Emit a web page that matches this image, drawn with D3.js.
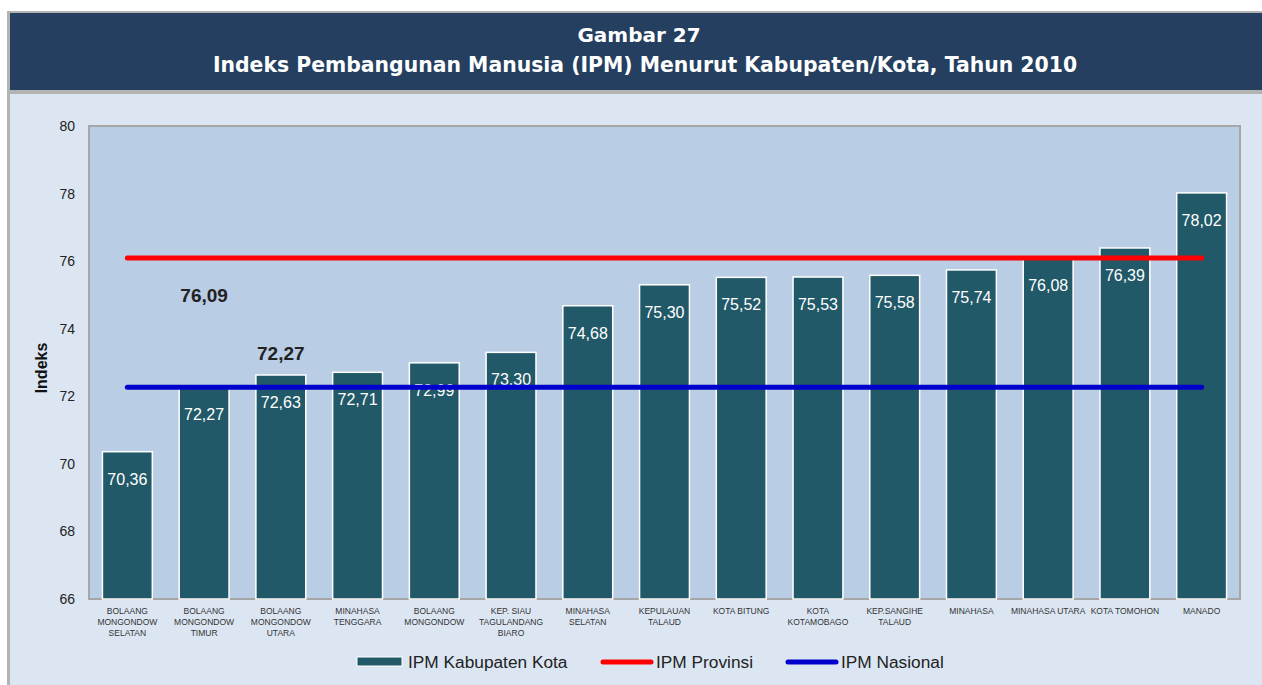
<!DOCTYPE html>
<html>
<head>
<meta charset="utf-8">
<script src="https://cdn.jsdelivr.net/npm/d3@7"></script>
<style>
  body { margin: 0; background: #fff; }
  svg { display: block; }
</style>
</head>
<body>
<script>
// data
const regions = [
    ['BOLAANG', 'MONGONDOW', 'SELATAN'],
    ['BOLAANG', 'MONGONDOW', 'TIMUR'],
    ['BOLAANG', 'MONGONDOW', 'UTARA'],
    ['MINAHASA', 'TENGGARA'],
    ['BOLAANG', 'MONGONDOW'],
    ['KEP. SIAU', 'TAGULANDANG', 'BIARO'],
    ['MINAHASA', 'SELATAN'],
    ['KEPULAUAN', 'TALAUD'],
    ['KOTA BITUNG'],
    ['KOTA', 'KOTAMOBAGO'],
    ['KEP.SANGIHE', 'TALAUD'],
    ['MINAHASA'],
    ['MINAHASA UTARA'],
    ['KOTA TOMOHON'],
    ['MANADO']
]
const ipmValues = [70.36, 72.27, 72.63, 72.71, 72.99, 73.30, 74.68, 75.30, 75.52, 75.53, 75.58, 75.74, 76.08, 76.39, 78.02]
const ipmProvinsi = 76.09
const ipmNasional = 72.27
const yTicks = [66, 68, 70, 72, 74, 76, 78, 80]
const legendNames = ['IPM Kabupaten Kota', 'IPM Provinsi', 'IPM Nasional']

const m = { width: 1262, height: 685 }
const plot = { left: 89, right: 1240, top: 126, bottom: 599 }
const fmt = v => v.toFixed(2).replace('.', ',')

const svg = d3.select('body').append('svg')
    .attr('width', m.width)
    .attr('height', m.height)

// frame and banner
svg.append('rect').attr('x', 7).attr('y', 11).attr('width', m.width - 7).attr('height', m.height - 11).attr('fill', '#b3b3b3')
svg.append('rect').attr('x', 10).attr('y', 94).attr('width', m.width - 10).attr('height', m.height - 94).attr('fill', '#dce6f2')
svg.append('rect').attr('x', 10).attr('y', 13).attr('width', m.width - 10).attr('height', 77).attr('fill', '#243f60')

svg.append('text')
    .attr('x', 639).attr('y', 42)
    .attr('text-anchor', 'middle')
    .attr('font-family', 'DejaVu Sans')
    .attr('font-weight', 'bold')
    .attr('font-size', 20)
    .attr('fill', '#fff')
    .text('Gambar 27')
svg.append('text')
    .attr('x', 645).attr('y', 72)
    .attr('text-anchor', 'middle')
    .attr('font-family', 'DejaVu Sans')
    .attr('font-weight', 'bold')
    .attr('font-size', 20.4)
    .attr('fill', '#fff')
    .text('Indeks Pembangunan Manusia (IPM) Menurut Kabupaten/Kota, Tahun 2010')

// scales
const x = d3.scaleBand()
    .domain(d3.range(ipmValues.length))
    .range([plot.left, plot.right])
    .paddingInner(0.35)
    .paddingOuter(0.175)

const y = d3.scaleLinear()
    .domain([66, 80])
    .range([plot.bottom, plot.top])

// plot area
svg.append('rect')
    .attr('x', plot.left).attr('y', plot.top)
    .attr('width', plot.right - plot.left).attr('height', plot.bottom - plot.top)
    .attr('fill', '#b9cde5')
    .attr('stroke', '#a6a6a6')
    .attr('stroke-width', 2)

// y axis
const yAxis = svg.append('g')
    .attr('transform', `translate(${plot.left},0)`)
    .call(d3.axisLeft(y).tickValues(yTicks).tickSize(0).tickPadding(14))
yAxis.select('.domain').remove()
yAxis.selectAll('text')
    .attr('font-family', 'Liberation Sans, Arial, sans-serif')
    .attr('font-size', 14)
    .attr('fill', '#222')

svg.append('text')
    .attr('transform', 'translate(47,368) rotate(-90)')
    .attr('text-anchor', 'middle')
    .attr('font-family', 'Liberation Sans, Arial, sans-serif')
    .attr('font-weight', 'bold')
    .attr('font-size', 16)
    .attr('fill', '#111')
    .text('Indeks')

// bars
svg.selectAll('.bar')
    .data(ipmValues)
    .enter()
    .append('rect')
        .attr('class', 'bar')
        .attr('x', (d, i) => x(i))
        .attr('y', d => y(d))
        .attr('width', x.bandwidth())
        .attr('height', d => y(66) - y(d))
        .attr('fill', '#215968')
        .attr('stroke', '#fff')
        .attr('stroke-width', 1.5)

svg.selectAll('.val')
    .data(ipmValues)
    .enter()
    .append('text')
        .attr('class', 'val')
        .attr('x', (d, i) => x(i) + x.bandwidth() / 2)
        .attr('y', d => y(d) + 33)
        .attr('text-anchor', 'middle')
        .attr('font-family', 'Liberation Sans, Arial, sans-serif')
        .attr('font-size', 16)
        .attr('fill', '#fff')
        .text(d => fmt(d))

// x labels
const xl = svg.selectAll('.xl')
    .data(regions)
    .enter()
    .append('text')
        .attr('class', 'xl')
        .attr('x', (d, i) => x(i) + x.bandwidth() / 2)
        .attr('y', 614)
        .attr('text-anchor', 'middle')
        .attr('font-family', 'Liberation Sans, Arial, sans-serif')
        .attr('font-size', 8.5)
        .attr('fill', '#333')
xl.selectAll('tspan')
    .data((d, i) => d.map(t => ({ t, i })))
    .enter()
    .append('tspan')
        .attr('x', d => x(d.i) + x.bandwidth() / 2)
        .attr('dy', (d, j) => j === 0 ? 0 : 11)
        .text(d => d.t)

// reference lines
const first = x(0) + x.bandwidth() / 2
const last = x(ipmValues.length - 1) + x.bandwidth() / 2
svg.append('line')
    .attr('x1', first).attr('x2', last)
    .attr('y1', y(ipmProvinsi)).attr('y2', y(ipmProvinsi))
    .attr('stroke', '#ff0000').attr('stroke-width', 5).attr('stroke-linecap', 'round')
svg.append('line')
    .attr('x1', first).attr('x2', last)
    .attr('y1', y(ipmNasional)).attr('y2', y(ipmNasional))
    .attr('stroke', '#0000cc').attr('stroke-width', 5).attr('stroke-linecap', 'round')

// annotations
svg.append('text')
    .attr('x', x(1) + x.bandwidth() / 2).attr('y', 302)
    .attr('text-anchor', 'middle')
    .attr('font-family', 'Liberation Sans, Arial, sans-serif')
    .attr('font-weight', 'bold').attr('font-size', 19)
    .attr('fill', '#222')
    .text(fmt(ipmProvinsi))
svg.append('text')
    .attr('x', x(2) + x.bandwidth() / 2).attr('y', 360)
    .attr('text-anchor', 'middle')
    .attr('font-family', 'Liberation Sans, Arial, sans-serif')
    .attr('font-weight', 'bold').attr('font-size', 19)
    .attr('fill', '#222')
    .text(fmt(ipmNasional))

// legend
const lg = svg.append('g').attr('font-family', 'Liberation Sans, Arial, sans-serif').attr('font-size', 17.3).attr('fill', '#222')
lg.append('rect').attr('x', 357).attr('y', 657).attr('width', 45).attr('height', 9)
    .attr('fill', '#215968').attr('stroke', '#fff').attr('stroke-width', 1)
lg.append('text').attr('x', 408).attr('y', 668).text(legendNames[0])
lg.append('line').attr('x1', 603).attr('x2', 651).attr('y1', 662).attr('y2', 662)
    .attr('stroke', '#ff0000').attr('stroke-width', 5).attr('stroke-linecap', 'round')
lg.append('text').attr('x', 656).attr('y', 668).text(legendNames[1])
lg.append('line').attr('x1', 788).attr('x2', 836).attr('y1', 662).attr('y2', 662)
    .attr('stroke', '#0000cc').attr('stroke-width', 5).attr('stroke-linecap', 'round')
lg.append('text').attr('x', 841).attr('y', 668).text(legendNames[2])
</script>
</body>
</html>
